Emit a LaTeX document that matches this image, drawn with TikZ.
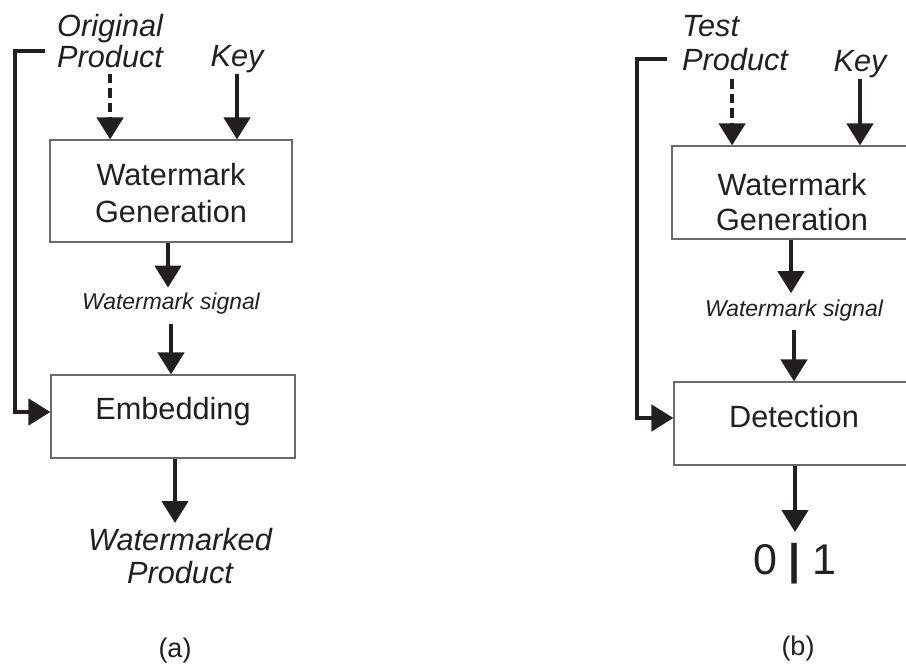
\documentclass[tikz,border=0pt]{standalone}
\usepackage{fontspec}
\setmainfont{Liberation Sans}
\usetikzlibrary{arrows.meta,calc}
\definecolor{ink}{HTML}{231F20}
\definecolor{frame}{HTML}{6A6A6A}
\begin{document}
\begin{tikzpicture}[x=1pt,y=-1pt,
  box/.style={draw=frame, line width=1.1pt, inner sep=0pt},
  boxtext/.style={inner sep=0pt, text=ink, align=center},
  lbl/.style={inner sep=0pt, text=ink, font=\fontsize{30.7}{30}\selectfont\itshape},
  small/.style={inner sep=0pt, text=ink, font=\fontsize{22.9}{26}\selectfont\itshape},
  arr/.style={draw=ink, line width=4.5pt, line join=miter,
              -{Triangle[length=22pt,width=26pt]}},
  dashedfeed/.style={dash pattern=on 9.5pt off 5pt},
  caption/.style={inner sep=0pt, text=ink, font=\fontsize{27}{30}\selectfont},
]
\clip (0,0) rectangle (906,667);

% ---------------- (a) embedding ----------------
\node[box, minimum width=242pt, minimum height=102pt] (genA) at (171,191) {};
\node[boxtext, anchor=north, font=\fontsize{30.7}{37}\selectfont] (genAt) at (171,162.6) {Watermark\\Generation};
\node[box, minimum width=244pt, minimum height=83pt] (embA) at (173,416.5) {};
\node[boxtext, anchor=base, font=\fontsize{30.7}{37}\selectfont] (embAt) at (173,419) {Embedding};

\node[lbl, anchor=north west, align=left, font=\fontsize{30.7}{31}\selectfont\itshape] (srcA) at (57,13.6) {Original\\Product};
\node[lbl, anchor=base] (keyA) at (237,66) {Key};
\node[small, anchor=base] (sigA) at (171,309) {Watermark signal};
\node[lbl, anchor=north, align=center, font=\fontsize{30.7}{33}\selectfont\itshape] (outA) at (180,527.6) {Watermarked\\Product};
\node[caption, anchor=base] (capA) at (175,657) {(a)};

\draw[arr, dashedfeed] ([yshift=-6pt]srcA.south) -- (srcA.south |- genA.north);
\draw[arr] ([yshift=-1pt]keyA.south) -- (keyA.south |- genA.north);
\draw[arr] ([xshift=-3pt]genA.south) -- ($(genA.south |- sigA.north)+(-3,-4.5)$);
\draw[arr] ([yshift=-10pt]sigA.south) -- (sigA.south |- embA.north);
\draw[arr] ([xshift=2pt]embA.south) -- ($(embA.south |- outA.north)+(2,-4.6)$);

\coordinate (tapA) at (45,51);
\coordinate (bendA) at (15,412);
\draw[arr] (tapA) -| (bendA) -- (bendA -| embA.west);

% ---------------- (b) detection ----------------
\node[box, minimum width=243pt, minimum height=93pt] (genB) at (793.5,192.5) {};
\node[boxtext, anchor=north, font=\fontsize{30.7}{35}\selectfont] (genBt) at (792,172.6) {Watermark\\Generation};
\node[box, minimum width=243pt, minimum height=83pt] (detB) at (795.5,423.5) {};
\node[boxtext, anchor=base, font=\fontsize{30.7}{37}\selectfont] (detBt) at (794,427) {Detection};

\node[lbl, anchor=north west, align=left, font=\fontsize{30.7}{34}\selectfont\itshape] (srcB) at (682,15.6) {Test\\Product};
\node[lbl, anchor=base] (keyB) at (860,71) {Key};
\node[small, anchor=base] (sigB) at (794,316) {Watermark signal};
\node[inner sep=0pt, text=ink, font=\fontsize{43}{46}\selectfont, anchor=base] (outB) at (795,574) {0 \textbf{|} 1};
\node[caption, anchor=base] (capB) at (798,655) {(b)};

\draw[arr, dashedfeed] ([xshift=-3pt,yshift=-8pt]srcB.south) -- ($(srcB.south |- genB.north)+(-3,0)$);
\draw[arr] ([yshift=-1.6pt]keyB.south) -- (keyB.south |- genB.north);
\draw[arr] ([xshift=-2.5pt]genB.south) -- ($(genB.south |- sigB.north)+(-2.5,-6)$);
\draw[arr] ([yshift=-9pt]sigB.south) -- (sigB.south |- detB.north);
\draw[arr] (detB.south -| outB.north) -- ($(outB.north)+(0,-10.6)$);

\coordinate (tapB) at (667,59);
\coordinate (bendB) at (637,418);
\draw[arr] (tapB) -| (bendB) -- (bendB -| detB.west);
\end{tikzpicture}
\end{document}
